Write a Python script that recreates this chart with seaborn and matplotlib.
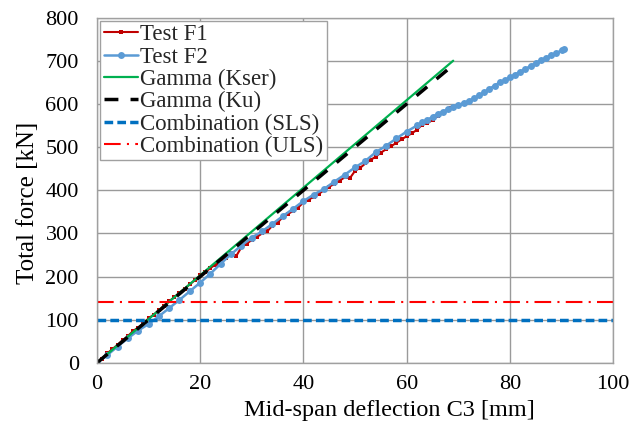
import matplotlib
matplotlib.use("Agg")
import matplotlib.pyplot as plt
import seaborn as sns
import pandas as pd

# ---- data ----
f1_x = [0, 1, 2, 3, 4, 5, 6, 7, 8, 9, 10, 11, 12, 13, 14, 15, 16, 17, 18, 19, 20,
        21, 22, 23, 24, 25, 26, 27, 28, 29, 30, 31, 32, 33, 34, 35, 36, 37, 38, 39, 40,
        41, 42, 43, 44, 45, 46, 47, 48, 49, 50, 51, 52, 53, 54, 55, 56, 57, 58, 59, 60,
        61, 62, 63, 64, 65, 66, 67, 68, 68.5]
f1_y = [0, 10, 22, 32, 42, 53, 62, 74, 82, 92, 103, 112, 122, 133, 143, 152, 163, 172, 182, 192, 203,
        210, 220, 228, 238, 244, 255, 248, 268, 276, 285, 292, 300, 305, 318, 325, 338, 345, 352, 360, 372,
        378, 385, 392, 400, 408, 415, 422, 430, 428, 445, 452, 462, 470, 478, 487, 495, 502, 510, 518, 525,
        532, 540, 552, 555, 563, 572, 580, 588, 590]

f2_x = [0, 2, 4, 6, 8, 10, 12, 14, 16, 18, 20, 22, 24, 26, 28, 30, 32, 34, 36, 38, 40,
        42, 44, 46, 48, 50, 52, 54, 56, 58, 60, 62, 63, 64, 65, 66, 67, 68, 69, 70, 71,
        72, 73, 74, 75, 76, 77, 78, 79, 80, 81, 82, 83, 84, 85, 86, 87, 88, 89, 90, 90.5]
f2_y = [0, 18, 38, 57, 75, 90, 108, 127, 146, 166, 186, 207, 230, 252, 272, 290, 305, 322, 340, 357, 375,
        390, 403, 420, 436, 453, 468, 488, 503, 520, 536, 550, 558, 563, 570, 577, 582, 588, 592, 597, 602,
        607, 613, 620, 627, 635, 642, 650, 655, 662, 668, 675, 681, 688, 695, 701, 707, 713, 718, 724, 727]

kser_x = [0, 69]
kser_y = [0, 700]
ku_x = [0, 69]
ku_y = [0, 690]

sls_x = [0, 100]
sls_y = [100, 100]
uls_x = [0, 100]
uls_y = [140, 140]

x_ticks = [0, 20, 40, 60, 80, 100]
y_ticks = [0, 100, 200, 300, 400, 500, 600, 700, 800]

# ---- plot ----
sns.set_theme(style="whitegrid")
plt.rcParams['font.family'] = ['Liberation Serif', 'DejaVu Serif']

fig = plt.figure(figsize=(6.29, 4.28), dpi=100)
ax = fig.add_axes([0.154, 0.152, 0.821, 0.807])

sns.lineplot(x=f1_x, y=f1_y, ax=ax, color="#C00000", linewidth=1.5, marker="s",
             markersize=3.5, markeredgewidth=0, label="Test F1", sort=False)
sns.lineplot(x=f2_x, y=f2_y, ax=ax, color="#5B9BD5", linewidth=1.8, marker="o",
             markersize=5, markeredgewidth=0, label="Test F2", sort=False)
sns.lineplot(x=kser_x, y=kser_y, ax=ax, color="#00B050", linewidth=1.6, label="Gamma (Kser)")
sns.lineplot(x=ku_x, y=ku_y, ax=ax, color="black", linewidth=2.5, dashes=False,
             label="Gamma (Ku)").lines[-1].set_dashes([4, 3.5])
l_sls = sns.lineplot(x=sls_x, y=sls_y, ax=ax, color="#0070C0", linewidth=2.5,
                     label="Combination (SLS)").lines[-1]
l_sls.set_dashes([2.5, 1.2])
l_uls = sns.lineplot(x=uls_x, y=uls_y, ax=ax, color="#FF0000", linewidth=1.5,
                     label="Combination (ULS)").lines[-1]
l_uls.set_dashes([8, 3, 1, 3])

ax.set_xlim(0, 100)
ax.set_ylim(0, 800)
ax.set_xticks(x_ticks)
ax.set_yticks(y_ticks)
ax.tick_params(axis='both', labelsize=16, length=0, colors='black')
ax.tick_params(axis='y', pad=13)
ax.tick_params(axis='x', pad=8.5)
ax.grid(True, color="#9a9a9a", linewidth=1)
for s in ax.spines.values():
    s.set_visible(True)
    s.set_color("#a0a0a0")
    s.set_linewidth(1)

ax.set_xlabel("Mid-span deflection C3 [mm]", fontsize=17.5, color='black')
ax.set_ylabel("Total force [kN]", fontsize=18, color='black')
ax.xaxis.set_label_coords(0.566, -0.1085)
ax.yaxis.set_label_coords(-0.112, 0.4645)

leg = ax.legend(loc="upper left", fontsize=16.5, frameon=True, fancybox=False,
                edgecolor="#a0a0a0", framealpha=1, borderaxespad=0.15,
                handlelength=1.5, handletextpad=0.1, labelspacing=0.05,
                borderpad=0.15)
leg.get_frame().set_linewidth(1)

fig.savefig("out.png", dpi=100)
